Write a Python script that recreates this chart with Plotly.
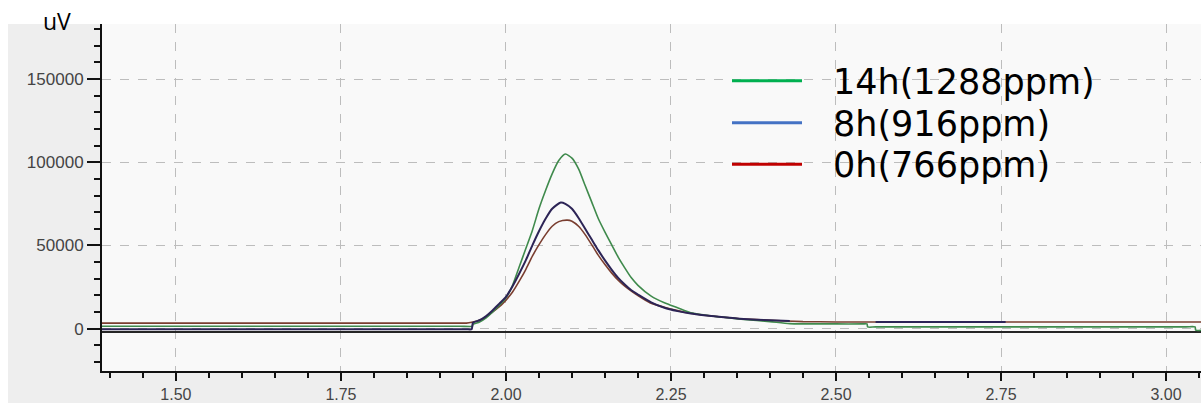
import plotly.graph_objects as go

# Retention time (min) and detector signal (uV) for each run
x_14h = [1.388, 1.6, 1.8, 1.93, 1.949, 1.95, 1.96, 1.97, 1.98, 1.99, 2.00, 2.01, 2.02, 2.03, 2.04, 2.05, 2.06,
         2.07, 2.08, 2.09, 2.10, 2.11, 2.12, 2.13, 2.14, 2.15, 2.16, 2.17, 2.18, 2.19, 2.20, 2.22, 2.24,
         2.26, 2.28, 2.30, 2.33, 2.36, 2.40, 2.43, 2.50, 2.54, 2.547, 2.548, 2.56, 2.8, 3.03, 3.044, 3.045, 3.053]
y_14h = [1400, 1400, 1400, 1400, 1400, 2500, 4000, 6500, 10000, 14000, 18500, 26000, 37000, 48000, 59000, 72000, 83000,
         93000, 101000, 104900, 102500, 96000, 86000, 76000, 66000, 58000, 50500, 43000, 36500, 30500, 26000, 19500, 15500,
         12500, 9500, 8200, 6800, 5500, 4200, 3000, 2800, 2800, 2800, 1000, 1000, 1000, 1000, 1000, -1000, -1000]

x_8h = [1.388, 1.6, 1.8, 1.906, 1.94, 1.948, 1.95, 1.96, 1.97, 1.98, 1.99, 2.00, 2.01, 2.02, 2.03, 2.04, 2.05,
        2.06, 2.07, 2.083, 2.09, 2.10, 2.11, 2.12, 2.13, 2.14, 2.15, 2.16, 2.17, 2.18, 2.19, 2.20, 2.22, 2.24,
        2.26, 2.28, 2.30, 2.33, 2.36, 2.40, 2.43, 2.495, 2.56, 2.66, 2.757]
y_8h = [-400, -400, -400, -400, -400, -400, 3500, 5000, 7500, 11000, 15000, 19000, 25500, 33000, 41000, 50000, 58500,
        66000, 72000, 75800, 75000, 72000, 66500, 60000, 53500, 47000, 41000, 35500, 30500, 26500, 23000, 20500, 15800, 12500,
        10500, 9000, 8000, 6800, 5800, 5000, 4500, None, 4000, 4000, 4000]

x_0h = [1.388, 1.6, 1.8, 1.93, 1.94, 1.95, 1.96, 1.97, 1.98, 1.995, 2.01, 2.021, 2.03, 2.04, 2.048, 2.06, 2.07,
        2.08, 2.093, 2.10, 2.11, 2.12, 2.132, 2.14, 2.15, 2.16, 2.17, 2.18, 2.19, 2.20, 2.218, 2.24, 2.26,
        2.28, 2.30, 2.33, 2.36, 2.40, 2.45, 2.50, 2.6, 2.8, 3.0, 3.053]
y_0h = [3300, 3300, 3300, 3300, 3300, 4000, 5000, 7000, 10000, 15000, 22000, 29100, 35500, 43500, 49100, 56500, 61500,
        64300, 65200, 64500, 61500, 56500, 49100, 44000, 38500, 33500, 29100, 25500, 22500, 19800, 15500, 12800, 10800,
        9200, 8000, 6800, 5800, 5000, 4200, 4000, 4000, 4000, 4000, 4000]

x_base = [1.388, 3.053]
y_base = [-2000, -2000]

legend_names = ["14h(1288ppm)", "8h(916ppm)", "0h(766ppm)"]
legend_colors = ["#00b050", "#4472c4", "#c00000"]

fig = go.Figure()
fig.add_trace(go.Scatter(x=x_base, y=y_base, mode="lines", line=dict(color="#262626", width=2),
                         hoverinfo="skip", showlegend=False))
fig.add_trace(go.Scatter(x=x_0h, y=y_0h, mode="lines", name=legend_names[2],
                         line=dict(color="#7a3e30", width=1.6, shape="spline", smoothing=0.6),
                         showlegend=False))
fig.add_trace(go.Scatter(x=x_14h, y=y_14h, mode="lines", name=legend_names[0],
                         line=dict(color="#3f8a4c", width=1.6, shape="spline", smoothing=0.6),
                         showlegend=False))
fig.add_trace(go.Scatter(x=x_8h, y=y_8h, mode="lines", name=legend_names[1], connectgaps=False,
                         line=dict(color="#2c2456", width=2, shape="spline", smoothing=0.6),
                         showlegend=False))

# Page geometry in pixels, used to place the legend block and frame
W, H, L, T, B = 1201, 403, 102, 24, 32
pw, ph = W - L, H - T - B
def px(xp):
    return (xp - L) / pw
def py(yp):
    return (H - B - yp) / ph

shapes = [
    # white strips above and left of the grey frame
    dict(type="rect", xref="paper", yref="paper", x0=px(-5), x1=px(W + 5), y0=1, y1=py(-5),
         fillcolor="#ffffff", line=dict(width=0), layer="below"),
    dict(type="rect", xref="paper", yref="paper", x0=px(-5), x1=px(8), y0=py(H + 5), y1=1,
         fillcolor="#ffffff", line=dict(width=0), layer="below"),
]
annotations = []
rows_y = [80.7, 122.7, 164.3]
for name, color, ry in zip(legend_names, legend_colors, rows_y):
    shapes.append(dict(type="line", xref="paper", yref="paper", x0=px(732), x1=px(802),
                       y0=py(ry), y1=py(ry), line=dict(color=color, width=3)))
    annotations.append(dict(text=name, xref="paper", yref="paper", x=px(831), y=py(ry + 1),
                            xanchor="left", yanchor="middle", showarrow=False,
                            font=dict(family="DejaVu Sans", size=35, color="#000000")))
annotations.append(dict(text="uV", xref="paper", yref="paper", x=px(57), y=py(21),
                        xanchor="center", yanchor="middle", showarrow=False,
                        font=dict(family="Open Sans", size=23, color="#000000")))

fig.update_layout(
    width=W, height=H,
    margin=dict(l=L, r=0, t=T, b=B, pad=0, autoexpand=False),
    paper_bgcolor="#eeeeee",
    plot_bgcolor="#f9f9f9",
    shapes=shapes,
    annotations=annotations,
    showlegend=False,
    font=dict(family="Liberation Sans", size=17, color="#444444"),
)
fig.update_xaxes(
    range=[1.388, 3.053], tick0=1.5, dtick=0.25, tickformat=".2f", automargin=False,
    tickfont=dict(size=16),
    showline=True, linecolor="#111111", linewidth=2,
    ticks="outside", ticklen=8, tickwidth=2, tickcolor="#111111",
    showgrid=True, gridcolor="#bdbdbd", griddash="dash", gridwidth=1,
    minor=dict(dtick=0.05, tick0=1.5, ticks="outside", ticklen=5, tickwidth=2, tickcolor="#111111", showgrid=False),
    zeroline=False, mirror=False,
)
fig.update_yaxes(
    range=[-25500, 183100], tick0=0, dtick=50000, tickformat="d", automargin=False,
    showline=True, linecolor="#111111", linewidth=2,
    ticks="outside", ticklen=13, tickwidth=2, tickcolor="#111111",
    showgrid=True, gridcolor="#bdbdbd", griddash="dash", gridwidth=1,
    minor=dict(dtick=10000, tick0=0, ticks="outside", ticklen=6, tickwidth=2, tickcolor="#111111", showgrid=False),
    zeroline=False, mirror=False,
)

fig.write_html("out.html")
